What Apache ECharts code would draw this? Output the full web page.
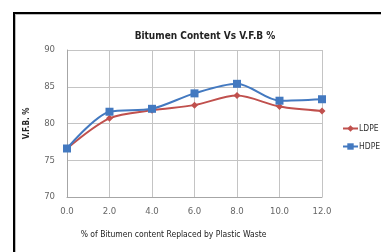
<!DOCTYPE html>
<html><head><meta charset="utf-8">
<script src="https://cdn.jsdelivr.net/npm/echarts@6/dist/echarts.min.js"></script>
<style>html,body{margin:0;padding:0;background:#fff}#c{width:381px;height:252px}</style>
</head><body><div id="c"></div>
<script>
const categories = ['0.0','2.0','4.0','6.0','8.0','10.0','12.0'];
const ldpe = [76.6, 80.7, 81.8, 82.5, 83.8, 82.3, 81.7];
const hdpe = [76.6, 81.6, 82.0, 84.1, 85.4, 83.1, 83.3];
const yTicks = [70, 75, 80, 85, 90];
const FONT = "'Liberation Sans Narrow','DejaVu Sans Condensed',sans-serif";
const chart = echarts.init(document.getElementById('c'));
chart.setOption({
  animation:false,
  backgroundColor:'#fff',
  textStyle:{fontFamily:FONT},
  title:{text:'Bitumen Content Vs V.F.B %',left:200,textAlign:'center',top:26,
    textStyle:{fontSize:10,fontWeight:'bold',color:'#222',fontFamily:FONT}},
  grid:{left:67,right:59,top:50,bottom:55},
  legend:{orient:'vertical',left:337,top:119,itemWidth:15,itemHeight:8,itemGap:9,
    textStyle:{fontSize:8.5,color:'#333',fontFamily:FONT,padding:[0,0,0,-4]},
    data:['LDPE','HDPE']},
  xAxis:{type:'category',data:categories,boundaryGap:false,
    name:'% of Bitumen content Replaced by Plastic Waste',nameLocation:'middle',nameGap:33,
    nameTextStyle:{fontSize:8.5,color:'#222',fontFamily:FONT,padding:[0,42,0,0]},
    axisLine:{lineStyle:{color:'#a6a6a6'}},axisTick:{show:false},
    axisLabel:{fontSize:9.5,color:'#666',margin:10,fontFamily:FONT},
    splitLine:{show:true,lineStyle:{color:'#c4c4c4',width:1}}},
  yAxis:{type:'value',min:yTicks[0],max:yTicks[yTicks.length-1],interval:5,
    name:'V.F.B. %',nameLocation:'middle',nameGap:36,nameRotate:90,
    nameTextStyle:{fontSize:8,fontWeight:'bold',color:'#222',fontFamily:FONT},
    axisLine:{show:true,lineStyle:{color:'#a6a6a6'}},axisTick:{show:false},
    axisLabel:{fontSize:9.5,color:'#666',margin:12,fontFamily:FONT},
    splitLine:{lineStyle:{color:'#c4c4c4',width:1}}},
  series:[
    {name:'LDPE',type:'line',data:ldpe,smooth:0.3,symbol:'diamond',symbolSize:7,
      lineStyle:{color:'#c0504d',width:2},itemStyle:{color:'#c0504d'}},
    {name:'HDPE',type:'line',data:hdpe,smooth:0.3,symbol:'rect',symbolSize:8,
      lineStyle:{color:'#4379c0',width:2},itemStyle:{color:'#4379c0'}}
  ],
  graphic:[
    {type:'rect',shape:{x:13,y:12,width:2,height:240},style:{fill:'#000'}},
    {type:'rect',shape:{x:13,y:12,width:368,height:2},style:{fill:'#000'}},
    {type:'line',shape:{x1:15.5,y1:14,x2:15.5,y2:252},style:{stroke:'#bbb',lineWidth:1}},
    {type:'line',shape:{x1:15,y1:14.5,x2:381,y2:14.5},style:{stroke:'#bbb',lineWidth:1}}
  ]
});
</script></body></html>
